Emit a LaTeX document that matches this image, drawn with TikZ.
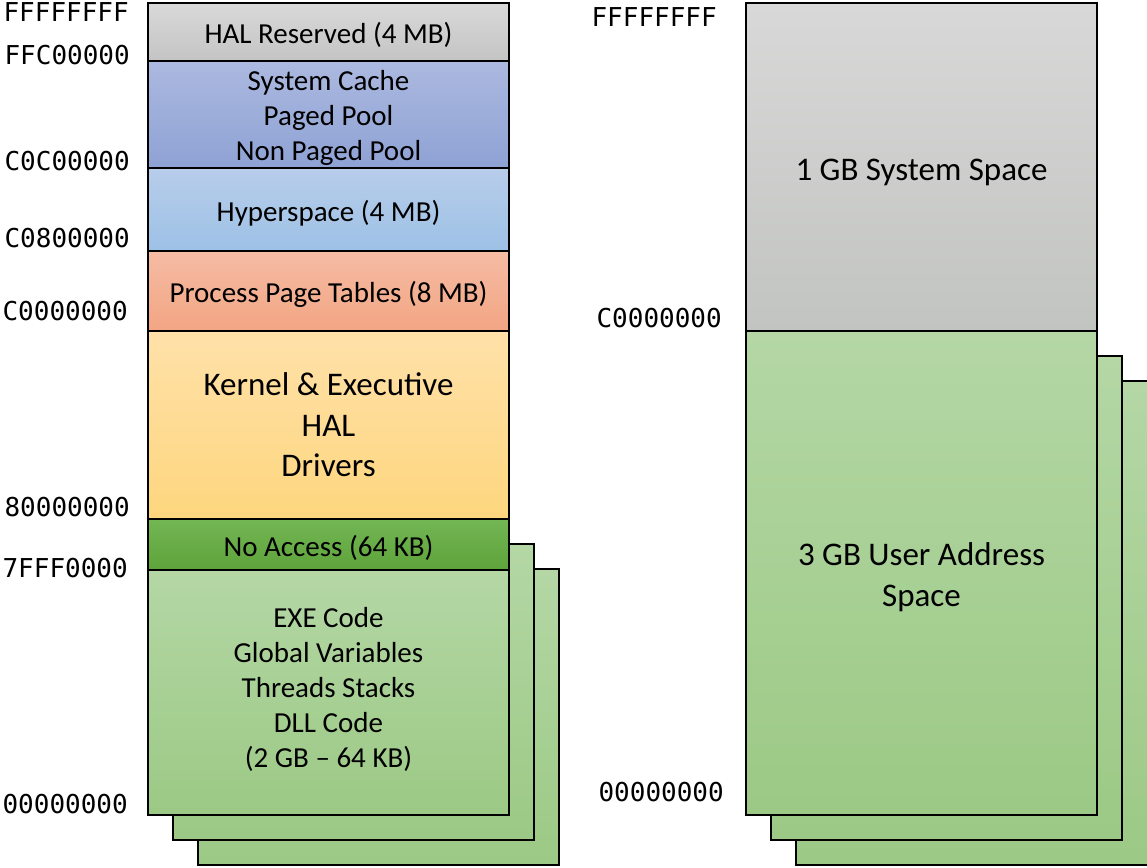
\documentclass[tikz,border=0pt]{standalone}
\usepackage{fontspec}
\setmainfont{Carlito}
\newfontfamily\addrfont{DejaVu Sans Mono}
\usepackage{tikz}
\usetikzlibrary{positioning}
\usetikzlibrary{shadings}

\definecolor{halTop}{HTML}{D9D9D9}
\definecolor{halBot}{HTML}{C4C4C4}
\definecolor{cacheTop}{HTML}{ACB9E0}
\definecolor{cacheBot}{HTML}{8EA2D4}
\definecolor{hyperTop}{HTML}{B8CDEA}
\definecolor{hyperBot}{HTML}{9DC1E6}
\definecolor{pptTop}{HTML}{F6BCA4}
\definecolor{pptBot}{HTML}{F2A583}
\definecolor{kernTop}{HTML}{FFE1A9}
\definecolor{kernBot}{HTML}{FED67E}
\definecolor{noaccTop}{HTML}{73B655}
\definecolor{noaccBot}{HTML}{5EA33A}
\definecolor{userTop}{HTML}{B4D7A5}
\definecolor{userBot}{HTML}{9CC985}
\definecolor{sysTop}{HTML}{D8D8D8}
\definecolor{sysBot}{HTML}{C2C4C1}

% a bit of extra room above the first line
\newcommand{\lift}{\rule{0pt}{0.96em}}

\begin{document}
\begin{tikzpicture}[x=1pt,y=-1pt,
  blk/.style={draw=black,line width=2pt,outer sep=0pt,inner sep=0pt,align=center,
    minimum width=361pt,font=\fontsize{29}{35}\selectfont},
  wide/.style={minimum width=351pt},
  big/.style={font=\fontsize{33}{40.5}\selectfont},
  shade2/.style 2 args={top color=#1,bottom color=#2},
  addr/.style={anchor=east,inner sep=0pt,font=\addrfont\fontsize{26}{26}\selectfont}]

  \useasboundingbox (0,0) rectangle (1147,867);

  % process copies behind the user part
  \node[blk, shade2={userTop}{userBot}, minimum height=296pt, anchor=north west] (stackB) at (198,569) {};
  \node[blk, shade2={userTop}{userBot}, minimum height=296pt, anchor=north west] (stackA) at (173,544) {};
  \node[blk, minimum width=356pt, shade2={userTop}{userBot}, minimum height=484pt, anchor=north west] (ustackB) at (796,381) {};
  \node[blk, wide, shade2={userTop}{userBot}, minimum height=484pt, anchor=north west] (ustackA) at (771,356) {};

  % detailed map
  \node[blk, shade2={halTop}{halBot}, minimum height=58pt, anchor=north west] (hal) at (148,3) {\lift HAL Reserved (4 MB)};
  \node[blk, shade2={cacheTop}{cacheBot}, minimum height=107pt, below=0pt of hal] (cache) {\lift System Cache\\Paged Pool\\Non Paged Pool};
  \node[blk, shade2={hyperTop}{hyperBot}, minimum height=83pt, below=0pt of cache] (hyper) {\lift Hyperspace (4 MB)};
  \node[blk, shade2={pptTop}{pptBot}, minimum height=80pt, below=0pt of hyper] (ppt) {\lift Process Page Tables (8 MB)};
  \node[blk, big, shade2={kernTop}{kernBot}, minimum height=188pt, below=0pt of ppt] (kernel) {Kernel \& Executive\\HAL\\Drivers};
  \node[blk, shade2={noaccTop}{noaccBot}, minimum height=51pt, below=0pt of kernel] (noacc) {\lift No Access (64 KB)};
  \node[blk, shade2={userTop}{userBot}, minimum height=245pt, below=0pt of noacc] (user) {\lift EXE Code\\Global Variables\\Threads Stacks\\DLL Code\\(2 GB -- 64 KB)\rule[-18pt]{0pt}{0pt}};

  % simple map
  \node[blk, wide, big, shade2={sysTop}{sysBot}, minimum height=328pt, anchor=north west] (sys) at (746,3) {\lift 1 GB System Space};
  \node[blk, wide, big, shade2={userTop}{userBot}, minimum height=484pt, below=0pt of sys] (uspace) {\lift 3 GB User Address\\Space};

  % addresses
  \node[addr] (aFFFF) at (129,12) {FFFFFFFF};
  \node[addr] (aFFC) at (130,55) {FFC00000};
  \node[addr] (aC0C) at (130,161) {C0C00000};
  \node[addr] (aC08) at (130,238) {C0800000};
  \node[addr] (aC00) at (128,311) {C0000000};
  \node[addr] (a800) at (130,507) {80000000};
  \node[addr] (a7FF) at (128,568) {7FFF0000};
  \node[addr] (a000) at (128,804) {00000000};

  \node[addr] (rFFFF) at (717,17) {FFFFFFFF};
  \node[addr] (rC00) at (722,318) {C0000000};
  \node[addr] (r000) at (724,792) {00000000};

\end{tikzpicture}
\end{document}
